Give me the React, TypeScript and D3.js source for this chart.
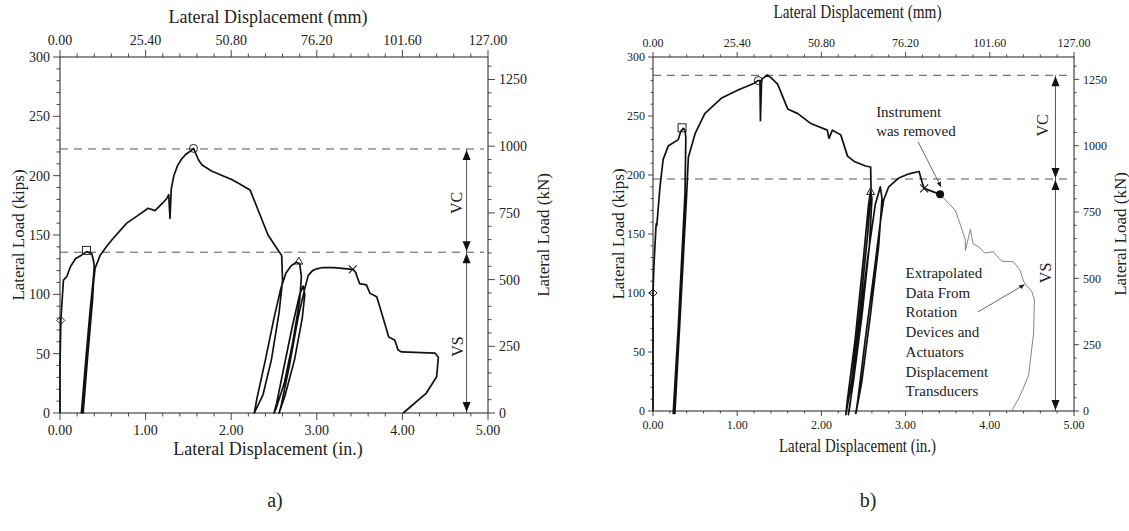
import React from 'react'
import * as d3 from 'd3'

type Pt = [number, number]
type MarkerKind = 'diamond' | 'square' | 'circle' | 'triangle' | 'cross' | 'dot'

const DISP_IN_TICKS = [0, 1, 2, 3, 4, 5]
const DISP_MM_LABELS = ['0.00', '25.40', '50.80', '76.20', '101.60', '127.00']
const LOAD_KIP_TICKS = [0, 50, 100, 150, 200, 250, 300]
const LOAD_KN_TICKS = [0, 250, 500, 750, 1000, 1250]
const KN_PER_KIP = 4.448

// specimen a: lateral displacement (in.) vs lateral load (kips)
const curveA: Pt[] = [
  [0, 0], [0.0, 40], [0.01, 78], [0.04, 112], [0.08, 115], [0.12, 123], [0.18, 130], [0.25, 133],
  [0.31, 136], [0.37, 134.5], [0.39, 129], [0.40, 124], [0.36, 80], [0.30, 35], [0.25, 0],
  [0.29, 35], [0.35, 85], [0.40, 121], [0.38, 95], [0.32, 45], [0.27, 0], [0.31, 40], [0.37, 95],
  [0.41, 122], [0.47, 133], [0.55, 141], [0.62, 147], [0.78, 160], [0.92, 167], [1.03, 172.5],
  [1.11, 170.5], [1.2, 177], [1.25, 181], [1.27, 184], [1.285, 164], [1.30, 189], [1.33, 200],
  [1.37, 208], [1.42, 214], [1.47, 218], [1.53, 221], [1.56, 223], [1.62, 213], [1.66, 209],
  [1.77, 204], [1.9, 200], [2.0, 197], [2.1, 193], [2.22, 188], [2.32, 170], [2.43, 150],
  [2.55, 137], [2.59, 132.6], [2.60, 112], [2.56, 85], [2.47, 45], [2.37, 15], [2.27, 0],
  [2.30, 12], [2.40, 45], [2.50, 80], [2.58, 105], [2.64, 118], [2.70, 124], [2.76, 127],
  [2.80, 126], [2.82, 115], [2.80, 95], [2.72, 60], [2.62, 25], [2.52, 3], [2.50, 0],
  [2.53, 8], [2.62, 40], [2.72, 75], [2.80, 100], [2.84, 107], [2.86, 100], [2.83, 80],
  [2.74, 45], [2.63, 15], [2.56, 0], [2.58, 5], [2.68, 40], [2.78, 80], [2.86, 105],
  [2.90, 116], [2.95, 120], [3.0, 121.5], [3.07, 122.6], [3.2, 122.5], [3.42, 121],
  [3.45, 119], [3.50, 109], [3.58, 108], [3.62, 101], [3.70, 98], [3.74, 88.5], [3.80, 74],
  [3.84, 64], [3.91, 61.5], [3.95, 53], [3.99, 51.5], [4.38, 50.5], [4.42, 47], [4.40, 30.6],
  [4.28, 16.8], [4.01, 0],
]
const markersA: { kind: MarkerKind; at: Pt }[] = [
  { kind: 'diamond', at: [0.01, 78] },
  { kind: 'square', at: [0.31, 137] },
  { kind: 'circle', at: [1.56, 223] },
  { kind: 'triangle', at: [2.79, 128] },
  { kind: 'cross', at: [3.42, 121] },
]
const levelsA = [222.5, 135.5] // VC top, VS top (kips)

// specimen b
const curveB: Pt[] = [
  [0, 0], [0.0, 60], [0.0, 100], [0.01, 122], [0.035, 156], [0.04, 159], [0.045, 157],
  [0.083, 190], [0.12, 213], [0.18, 224.5], [0.3, 230], [0.33, 237], [0.36, 239.5],
  [0.38, 238], [0.39, 232], [0.38, 184], [0.30, 71], [0.24, -2], [0.26, -2], [0.33, 90],
  [0.40, 184], [0.42, 215], [0.5, 235], [0.615, 252], [0.81, 265], [1.01, 272], [1.21, 278],
  [1.245, 280], [1.27, 280], [1.276, 246], [1.29, 281], [1.355, 284.7], [1.40, 282.5],
  [1.48, 277], [1.6, 256], [1.72, 252], [1.875, 243.6], [2.07, 238], [2.09, 231], [2.13, 238],
  [2.23, 234], [2.31, 216], [2.39, 211.5], [2.525, 207.6], [2.585, 206.8], [2.59, 188],
  [2.55, 150], [2.45, 80], [2.36, 25], [2.29, -3], [2.31, 10], [2.40, 60], [2.50, 130],
  [2.56, 175], [2.585, 187], [2.60, 180], [2.57, 140], [2.48, 80], [2.38, 25], [2.32, -3],
  [2.34, 5], [2.43, 60], [2.55, 130], [2.64, 175], [2.70, 190], [2.72, 180], [2.68, 140],
  [2.58, 80], [2.48, 25], [2.41, -2], [2.43, 8], [2.52, 60], [2.63, 120], [2.70, 160],
  [2.74, 179], [2.80, 190], [2.92, 197.5], [3.04, 201], [3.16, 203], [3.20, 193],
  [3.22, 188.7], [3.41, 183.6],
]
const extrapolatedB: Pt[] = [
  [3.41, 183.6], [3.51, 176], [3.59, 170], [3.65, 158], [3.71, 145], [3.71, 136], [3.77, 154],
  [3.80, 142], [3.87, 139], [3.94, 134], [4.04, 135], [4.14, 127], [4.28, 126.5],
  [4.36, 119.5], [4.40, 110], [4.44, 106], [4.50, 101], [4.53, 94], [4.52, 66], [4.46, 30],
  [4.36, 13], [4.26, 0],
]
const markersB: { kind: MarkerKind; at: Pt }[] = [
  { kind: 'diamond', at: [0.0, 100] },
  { kind: 'square', at: [0.345, 240] },
  { kind: 'circle', at: [1.25, 280] },
  { kind: 'triangle', at: [2.585, 186] },
  { kind: 'cross', at: [3.22, 188.7] },
  { kind: 'dot', at: [3.41, 183.6] },
]
const levelsB = [284.5, 196.6]

const instrumentNote = ['Instrument', 'was removed']
const extrapolatedNote = ['Extrapolated', 'Data From', 'Rotation', 'Devices and', 'Actuators', 'Displacement', 'Transducers']

const FONT = '"Liberation Serif", "Times New Roman", serif'

type Note = { lines: string[]; at: Pt; lineH: number; arrowFrom: Pt; arrowTo: Pt }

type PanelProps = {
  id: string
  l: number; r: number; t: number; b: number
  curve: Pt[]
  thin?: Pt[]
  markers: { kind: MarkerKind; at: Pt }[]
  levels: number[]
  arrowX: number
  vcAt: Pt
  vsAt: Pt
  tickFont: number
  titleY: number
  titleLen?: number
  bottomY: number
  bottomLen?: number
  yLabelX: number
  knLabelX: number
  tickOut: number
  notes: Note[]
  caption: string
  captionX: number
}

function Marker({ kind, cx, cy }: { kind: MarkerKind; cx: number; cy: number }) {
  const s = '#222'
  if (kind === 'square') return <rect x={cx - 4} y={cy - 4} width={8} height={8} fill="none" stroke={s} strokeWidth={1} />
  if (kind === 'circle') return <circle cx={cx} cy={cy} r={4} fill="none" stroke={s} strokeWidth={1} />
  if (kind === 'dot') return <circle cx={cx} cy={cy} r={4} fill="#111" />
  if (kind === 'diamond') return <path d={`M${cx},${cy - 4}L${cx + 4},${cy}L${cx},${cy + 4}L${cx - 4},${cy}Z`} fill="none" stroke={s} strokeWidth={1} />
  if (kind === 'triangle') return <path d={`M${cx},${cy - 4}L${cx + 4},${cy + 3}L${cx - 4},${cy + 3}Z`} fill="none" stroke={s} strokeWidth={1} />
  return <path d={`M${cx - 4},${cy - 4}L${cx + 4},${cy + 4}M${cx + 4},${cy - 4}L${cx - 4},${cy + 4}`} stroke={s} strokeWidth={1.2} />
}

function Panel(p: PanelProps) {
  const x = d3.scaleLinear().domain([0, 5]).range([p.l, p.r])
  const y = d3.scaleLinear().domain([0, 300]).range([p.b, p.t])
  const yKn = d3.scaleLinear().domain([0, 300 * KN_PER_KIP]).range([p.b, p.t])
  const line = d3.line<Pt>().x(d => x(d[0])).y(d => y(d[1]))
  const minorX = d3.range(0, 5.001, 0.2)
  const minorKip = d3.range(0, 300.1, 10)
  const minorKn = d3.range(0, 300 * KN_PER_KIP, 50)
  const ax = '#333'
  const txt = '#222'
  const mid = (p.l + p.r) / 2 - 6
  const axX = x(p.arrowX)
  const [vc, vs] = p.levels
  const tri = (cx: number, tip: number, up: boolean) =>
    `M${cx},${tip}L${cx + 4},${tip + (up ? 10 : -10)}L${cx - 4},${tip + (up ? 10 : -10)}Z`

  return (
    <g fontFamily={FONT} fill={txt}>
      <defs>
        <marker id={`ah-${p.id}`} viewBox="0 0 10 10" refX="9" refY="5" markerWidth="7" markerHeight="7" orient="auto">
          <path d="M0,1L10,5L0,9Z" fill="#222" />
        </marker>
      </defs>
      {/* frame */}
      <rect x={p.l} y={p.t} width={p.r - p.l} height={p.b - p.t} fill="none" stroke={ax} strokeWidth={1.1} />
      {/* minor + major ticks on bottom / top */}
      {minorX.map((v, i) => {
        const major = Math.abs(v - Math.round(v)) < 1e-6
        const len = major ? p.tickOut : p.tickOut / 2
        return (
          <g key={`xt${i}`} stroke={ax} strokeWidth={0.9}>
            <line x1={x(v)} x2={x(v)} y1={p.b} y2={p.b + len} />
            <line x1={x(v)} x2={x(v)} y1={p.t} y2={p.t - len} />
          </g>
        )
      })}
      {minorKip.map((v, i) => {
        const len = v % 50 === 0 ? p.tickOut : p.tickOut / 2
        return <line key={`yk${i}`} x1={p.l} x2={p.l - len} y1={y(v)} y2={y(v)} stroke={ax} strokeWidth={0.9} />
      })}
      {minorKn.map((v, i) => {
        const len = v % 250 === 0 ? p.tickOut : p.tickOut / 2
        return <line key={`yn${i}`} x1={p.r} x2={p.r + len} y1={yKn(v)} y2={yKn(v)} stroke={ax} strokeWidth={0.9} />
      })}
      {/* tick labels */}
      {DISP_IN_TICKS.map((v, i) => (
        <text key={`bl${i}`} x={x(v)} y={p.b + p.tickOut + p.tickFont + 1} textAnchor="middle" fontSize={p.tickFont}>{v.toFixed(2)}</text>
      ))}
      {DISP_IN_TICKS.map((v, i) => (
        <text key={`tl${i}`} x={x(v)} y={p.t - p.tickOut - 5} textAnchor="middle" fontSize={p.tickFont}>{DISP_MM_LABELS[i]}</text>
      ))}
      {LOAD_KIP_TICKS.map((v, i) => (
        <text key={`ll${i}`} x={p.l - p.tickOut - 3} y={y(v)} dy="0.35em" textAnchor="end" fontSize={p.tickFont}>{v}</text>
      ))}
      {LOAD_KN_TICKS.map((v, i) => (
        <text key={`rl${i}`} x={p.r + p.tickOut + 4} y={yKn(v)} dy="0.35em" textAnchor="start" fontSize={p.tickFont}>{v}</text>
      ))}
      {/* axis titles */}
      <text x={mid} y={p.titleY} textAnchor="middle" fontSize={18}
        textLength={p.titleLen} lengthAdjust={p.titleLen ? 'spacingAndGlyphs' : undefined}>Lateral Displacement (mm)</text>
      <text x={mid} y={p.bottomY} textAnchor="middle" fontSize={18}
        textLength={p.bottomLen} lengthAdjust={p.bottomLen ? 'spacingAndGlyphs' : undefined}>Lateral Displacement (in.)</text>
      <text transform={`translate(${p.yLabelX},${(p.t + p.b) / 2}) rotate(-90)`} dy="0.35em" textAnchor="middle" fontSize={17}>Lateral Load (kips)</text>
      <text transform={`translate(${p.knLabelX},${(p.t + p.b) / 2}) rotate(-90)`} dy="0.35em" textAnchor="middle" fontSize={17}>Lateral Load (kN)</text>
      {/* capacity levels */}
      {p.levels.map((v, i) => (
        <line key={`lv${i}`} x1={p.l} x2={p.r - 4} y1={y(v)} y2={y(v)} stroke="#555" strokeWidth={1} strokeDasharray="8,6" />
      ))}
      <line x1={axX} x2={axX} y1={y(vc)} y2={y(0)} stroke="#444" strokeWidth={0.9} />
      <path d={tri(axX, y(vc) + 1, true)} fill="#111" />
      <path d={tri(axX, y(vs) - 1, false)} fill="#111" />
      <path d={tri(axX, y(vs) + 1, true)} fill="#111" />
      <path d={tri(axX, y(0) - 1, false)} fill="#111" />
      <text transform={`translate(${x(p.vcAt[0])},${y(p.vcAt[1])}) rotate(-90)`} dy="0.35em" textAnchor="middle" fontSize={16}>VC</text>
      <text transform={`translate(${x(p.vsAt[0])},${y(p.vsAt[1])}) rotate(-90)`} dy="0.35em" textAnchor="middle" fontSize={16}>VS</text>
      {/* data */}
      {p.thin && <path d={line(p.thin) ?? ''} fill="none" stroke="#777" strokeWidth={0.9} />}
      <path d={line(p.curve) ?? ''} fill="none" stroke="#111" strokeWidth={1.7} strokeLinejoin="round" />
      {p.markers.map((m, i) => <Marker key={`m${i}`} kind={m.kind} cx={x(m.at[0])} cy={y(m.at[1])} />)}
      {/* notes */}
      {p.notes.map((n, i) => (
        <g key={`n${i}`}>
          {n.lines.map((s, j) => (
            <text key={j} x={x(n.at[0])} y={y(n.at[1]) + j * n.lineH} fontSize={15}>{s}</text>
          ))}
          <line x1={x(n.arrowFrom[0])} y1={y(n.arrowFrom[1])} x2={x(n.arrowTo[0])} y2={y(n.arrowTo[1])}
            stroke="#444" strokeWidth={0.8} markerEnd={`url(#ah-${p.id})`} />
        </g>
      ))}
      <text x={p.captionX} y={507} textAnchor="middle" fontSize={20}>{p.caption}</text>
    </g>
  )
}

export default function App() {
  return (
    <svg width={1129} height={531} style={{ position: 'absolute', left: 0, top: 0, background: '#fff' }}>
      <Panel id="a" l={60} r={488} t={57} b={413} curve={curveA} markers={markersA} levels={levelsA}
        arrowX={4.75} vcAt={[4.63, 177]} vsAt={[4.64, 56]} tickFont={14} titleY={23} bottomY={455}
        yLabelX={18} knLabelX={543} tickOut={7} notes={[]} caption="a)" captionX={275} />
      <Panel id="b" l={653} r={1074} t={57} b={411} curve={curveB} thin={extrapolatedB} markers={markersB}
        levels={levelsB} arrowX={4.78} vcAt={[4.63, 242]} vsAt={[4.66, 117]} tickFont={12} titleY={18}
        titleLen={168} bottomY={452} bottomLen={157} yLabelX={618} knLabelX={1120} tickOut={5}
        notes={[
          { lines: instrumentNote, at: [2.65, 249], lineH: 19, arrowFrom: [3.15, 228], arrowTo: [3.42, 190] },
          { lines: extrapolatedNote, at: [3.0, 112.7], lineH: 19.7, arrowFrom: [3.86, 84], arrowTo: [4.41, 107] },
        ]}
        caption="b)" captionX={868} />
    </svg>
  )
}
